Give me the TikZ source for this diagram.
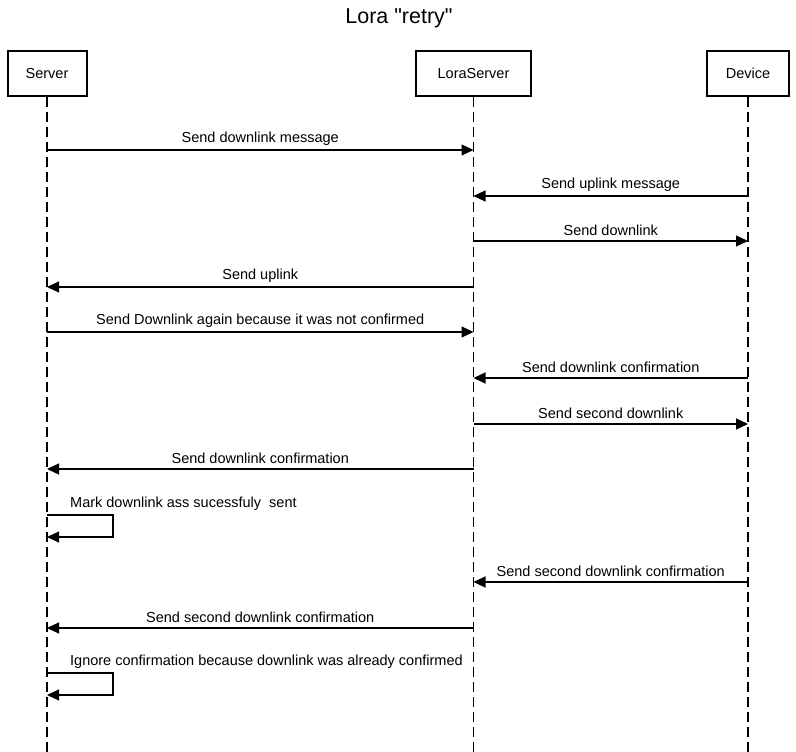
\documentclass[tikz,border=0pt]{standalone}
\usepackage{fontspec}
\setmainfont{Liberation Sans}
\newfontfamily\titlefont{Liberation Sans} % no TeX ligatures: keeps straight quotes
\usetikzlibrary{arrows.meta,positioning}
\tikzset{x=1pt, y=-1pt, % pixel-like units, y grows downwards
>={Triangle[length=12pt,width=11pt]}, % filled arrow heads
every node/.style={font=\fontsize{14.5}{17}\selectfont},
actor/.style={draw, line width=2pt, minimum height=45pt, inner sep=0pt}, % the boxes on top
lifeline/.style={dash pattern=on 10pt off 5pt, line width=1.2pt},
msg/.style={->, line width=1.2pt}, % a message between lifelines
lbl/.style={above=1pt}, % the text over a message
note/.style={anchor=south west, inner sep=0pt}, % the text over a self message
}

\begin{document}
\begin{tikzpicture}
\useasboundingbox (0,0) rectangle (796,752);
\node[font=\titlefont\fontsize{21.5}{25}\selectfont] (title) at (399,18) {Lora "retry"};
\node[actor, minimum width=79pt] (server) at (47,73.5) {Server};
\node[actor, minimum width=115pt] (lora) at (473.5,73.5) {LoraServer};
\node[actor, minimum width=82pt] (device) at (748,73.5) {Device};
\coordinate (serverEnd) at (47,752);
\coordinate (loraEnd) at (473.5,752);
\coordinate (deviceEnd) at (748,752);
\draw[lifeline] (server) -- (serverEnd);
\draw[lifeline] (lora) -- (loraEnd);
\draw[lifeline] (device) -- (deviceEnd);

% end points of the messages
\coordinate (s1) at (47,150); \coordinate (l1) at (473.5,150);
\coordinate (l2) at (473.5,196); \coordinate (d2) at (748,196);
\coordinate (l3) at (473.5,241); \coordinate (d3) at (748,241);
\coordinate (s4) at (47,287); \coordinate (l4) at (473.5,287);
\coordinate (s5) at (47,332); \coordinate (l5) at (473.5,332);
\coordinate (l6) at (473.5,378); \coordinate (d6) at (748,378);
\coordinate (l7) at (473.5,424); \coordinate (d7) at (748,424);
\coordinate (s8) at (47,469); \coordinate (l8) at (473.5,469);
\coordinate (s9) at (47,515); \coordinate (s9b) at (47,537);
\coordinate (l10) at (473.5,582); \coordinate (d10) at (748,582);
\coordinate (s11) at (47,628); \coordinate (l11) at (473.5,628);
\coordinate (s12) at (47,673); \coordinate (s12b) at (47,695);

\draw[msg] (s1) -- node[lbl]{Send downlink message} (l1);
\draw[msg] (d2) -- node[lbl]{Send uplink message} (l2);
\draw[msg] (l3) -- node[lbl]{Send downlink} (d3);
\draw[msg] (l4) -- node[lbl]{Send uplink} (s4);
\draw[msg] (s5) -- node[lbl]{Send Downlink again because it was not confirmed} (l5);
\draw[msg] (d6) -- node[lbl]{Send downlink confirmation} (l6);
\draw[msg] (l7) -- node[lbl]{Send second downlink} (d7);
\draw[msg] (l8) -- node[lbl]{Send downlink confirmation} (s8);
\draw[msg] (s9) -- ++(66,0) -- ++(0,22) -- (s9b);
\node[note] (note9) at ([xshift=23pt,yshift=4pt]s9) {Mark downlink ass sucessfuly~ sent};
\draw[msg] (d10) -- node[lbl]{Send second downlink confirmation} (l10);
\draw[msg] (l11) -- node[lbl]{Send second downlink confirmation} (s11);
\draw[msg] (s12) -- ++(66,0) -- ++(0,22) -- (s12b);
\node[note] (note12) at ([xshift=23pt,yshift=4pt]s12) {Ignore confirmation because downlink was already confirmed};
\end{tikzpicture}
\end{document}
